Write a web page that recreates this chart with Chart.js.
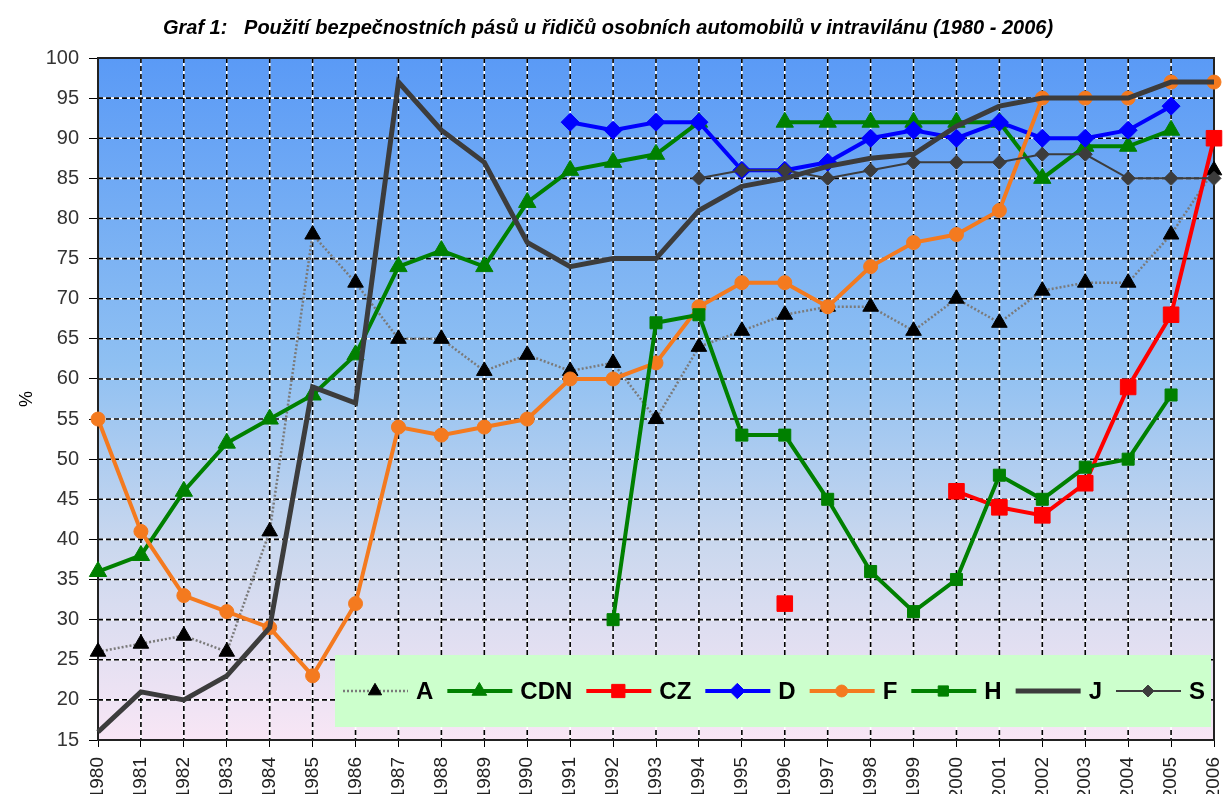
<!DOCTYPE html>
<html lang="cs">
<head>
<meta charset="UTF-8" />
<title>Graf 1</title>
<script src="https://cdn.jsdelivr.net/npm/chart.js@4.4.1/dist/chart.umd.min.js"></script>
<style>
  html, body { margin: 0; padding: 0; background: #fff; }
</style>
</head>
<body>
<canvas id="graf" width="1226" height="794"></canvas>
<script>
// roky (osa x)
const years = ["1980","1981","1982","1983","1984","1985","1986","1987","1988","1989",
  "1990","1991","1992","1993","1994","1995","1996","1997","1998","1999",
  "2000","2001","2002","2003","2004","2005","2006"];

// použití pásů v % (null = chybí údaj)
const dataA   = [26,27,28,26,41,78,72,65,65,61,63,61,62,55,64,66,68,69,69,66,70,67,71,72,72,78,86];
const dataCDN = [36,38,46,52,55,58,63,74,76,74,82,86,87,88,92,null,92,92,92,92,92,92,85,89,89,91,null];
const dataCZ  = [null,null,null,null,null,null,null,null,null,null,null,null,null,null,null,null,32,null,null,null,46,44,43,47,59,68,90];
const dataD   = [null,null,null,null,null,null,null,null,null,null,null,92,91,92,92,86,86,87,90,91,90,92,90,90,91,94,null];
const dataF   = [55,41,33,31,29,23,32,54,53,54,55,60,60,62,69,72,72,69,74,77,78,81,95,95,95,97,97];
const dataH   = [null,null,null,null,null,null,null,null,null,null,null,null,30,67,68,53,53,45,36,31,35,48,45,49,50,58,null];
const dataJ   = [16,21,20,23,29,59,57,97,91,87,77,74,75,75,81,84,85,86.5,87.5,88,91.5,94,95,95,95,97,97];
const dataS   = [null,null,null,null,null,null,null,null,null,null,null,null,null,null,85,86,86,85,86,87,87,87,88,88,85,85,85];

const FONT = "'Liberation Sans', Arial, sans-serif";
Chart.defaults.font.family = FONT;

// jedna řada grafu
function series(label, data, color, width, style, radius, order, extra) {
  return Object.assign({
    label: label,
    data: data,
    borderColor: color,
    backgroundColor: color,
    borderWidth: width,
    pointStyle: style,
    pointRadius: radius,
    pointHoverRadius: radius,
    pointBackgroundColor: color,
    pointBorderColor: color,
    pointBorderWidth: 1,
    tension: 0,
    spanGaps: false,
    order: order,
  }, extra || {});
}

const datasets = [
  series("A", dataA, "#7a7a7a", 2.5, "triangle", 9, 8,
    { borderDash: [2, 2], pointBackgroundColor: "#000", pointBorderColor: "#000" }),
  series("CDN", dataCDN, "#008000", 4, "triangle", 10, 7),
  series("CZ", dataCZ, "#ff0000", 4, "rect", 11, 6),
  series("D", dataD, "#0000ff", 4, "rectRot", 9, 5),
  series("F", dataF, "#f47a1f", 4, "circle", 7, 4),
  series("H", dataH, "#008000", 4, "rect", 8.5, 3),
  series("J", dataJ, "#3c3c3c", 5, "circle", 0, 2),
  series("S", dataS, "#3c3c3c", 2, "rectRot", 7, 1),
];

// pozadí plochy a mřížka (bílá pod černými čárkami)
const plotBackground = {
  id: "plotBackground",
  beforeDraw(chart) {
    const { ctx, chartArea: a } = chart;
    const g = ctx.createLinearGradient(0, a.top, 0, a.bottom);
    g.addColorStop(0, "#5a9af6");
    g.addColorStop(0.45, "#8fc0f2");
    g.addColorStop(0.72, "#cbd8ee");
    g.addColorStop(1, "#f8e6f5");
    ctx.save();
    ctx.fillStyle = g;
    ctx.fillRect(a.left, a.top, a.right - a.left, a.bottom - a.top);
    ctx.restore();
  },
  beforeDatasetsDraw(chart) {
    const { ctx, chartArea: a, scales } = chart;
    const lines = [];
    scales.y.ticks.forEach((t) => {
      const py = scales.y.getPixelForValue(t.value);
      lines.push([a.left, py, a.right, py]);
    });
    years.forEach((y, i) => {
      const px = scales.x.getPixelForValue(i);
      lines.push([px, a.top, px, a.bottom]);
    });
    ctx.save();
    ctx.lineWidth = 1.6;
    ctx.strokeStyle = "#ffffff";
    ctx.beginPath();
    lines.forEach((l) => { ctx.moveTo(l[0], l[1]); ctx.lineTo(l[2], l[3]); });
    ctx.stroke();
    ctx.strokeStyle = "#000000";
    ctx.setLineDash([5, 3]);
    ctx.beginPath();
    lines.forEach((l) => { ctx.moveTo(l[0], l[1]); ctx.lineTo(l[2], l[3]); });
    ctx.stroke();
    ctx.setLineDash([]);
    ctx.lineWidth = 2;
    ctx.strokeStyle = "#222";
    ctx.strokeRect(a.left, a.top, a.right - a.left, a.bottom - a.top);
    ctx.restore();
  },
};

// legenda uvnitř grafu (zelený rámeček)
const innerLegend = {
  id: "innerLegend",
  afterDatasetsDraw(chart) {
    const { ctx, chartArea: a } = chart;
    const bx = a.left + 237, by = a.bottom - 85, bw = a.right - 3 - bx, bh = 72;
    ctx.save();
    ctx.fillStyle = "#ccffcc";
    ctx.fillRect(bx, by, bw, bh);
    ctx.font = "bold 24px " + FONT;
    ctx.textBaseline = "middle";
    const cy = by + bh / 2;
    let x = bx + 8;
    chart.data.datasets.forEach((ds) => {
      ctx.strokeStyle = ds.borderColor;
      ctx.lineWidth = ds.borderWidth;
      ctx.setLineDash(ds.borderDash || []);
      ctx.beginPath();
      ctx.moveTo(x, cy);
      ctx.lineTo(x + 65, cy);
      ctx.stroke();
      ctx.setLineDash([]);
      if (ds.pointRadius > 0) {
        ctx.fillStyle = ds.pointBackgroundColor;
        ctx.strokeStyle = ds.pointBorderColor;
        ctx.lineWidth = 1;
        Chart.helpers.drawPoint(ctx, {
          pointStyle: ds.pointStyle,
          radius: ds.pointRadius * 0.85,
          rotation: 0,
          borderWidth: 1,
        }, x + 32, cy);
      }
      ctx.fillStyle = "#000";
      ctx.fillText(ds.label, x + 73, cy + 1);
      x += 73 + ctx.measureText(ds.label).width + 14;
    });
    ctx.restore();
  },
};

new Chart(document.getElementById("graf"), {
  type: "line",
  data: { labels: years, datasets: datasets },
  options: {
    responsive: false,
    animation: false,
    devicePixelRatio: 1,
    layout: { padding: { left: 0, right: 10, top: 0, bottom: 0 } },
    plugins: {
      legend: { display: false },
      tooltip: { enabled: false },
      title: {
        display: true,
        text: "Graf 1:   Použití bezpečnostních pásů u řidičů osobních automobilů v intravilánu (1980 - 2006)",
        color: "#000",
        font: { size: 20, weight: "bold", style: "italic" },
        padding: { top: 16, bottom: 18 },
      },
    },
    scales: {
      x: {
        type: "category",
        offset: false,
        grid: { drawOnChartArea: false, drawTicks: true, tickLength: 7, color: "#000", offset: false },
        border: { color: "#000", width: 2 },
        ticks: { autoSkip: false, minRotation: 90, maxRotation: 90, color: "#222", font: { size: 19 }, padding: 10 },
        afterFit: (s) => { s.height = 54; s.paddingRight = 0; s.paddingLeft = 0; },
      },
      y: {
        min: 15,
        max: 100,
        ticks: { stepSize: 5, color: "#333", font: { size: 20 }, padding: 10 },
        grid: { drawOnChartArea: false, drawTicks: true, tickLength: 9, color: "#000" },
        border: { color: "#000", width: 2 },
        title: { display: true, text: "%", color: "#000", font: { size: 18 }, padding: { top: 16, bottom: 0 } },
        afterFit: (s) => { s.width = 98; },
      },
    },
  },
  plugins: [plotBackground, innerLegend],
});
</script>
</body>
</html>
